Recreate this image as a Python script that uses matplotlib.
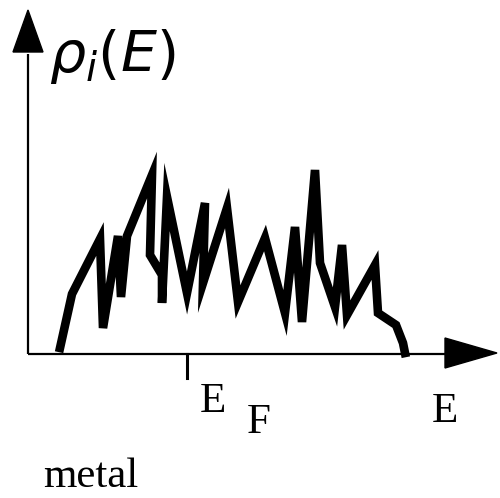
import numpy as np
import matplotlib
matplotlib.use('Agg')
import matplotlib.pyplot as plt
from matplotlib.patches import Polygon

# schematic density of states of a metal (arbitrary units, E relative to E_F)
energy = [-1.27, -1.15, -0.87, -0.84, -0.69, -0.66, -0.60, -0.35, -0.37,
          -0.25, -0.25, -0.20, 0.00, 0.18, 0.16, 0.40, 0.51, 0.78, 0.98,
          1.08, 1.15, 1.28, 1.33, 1.48, 1.55, 1.60, 1.88, 1.91, 2.09,
          2.16, 2.18]
dos = [0.06, 0.60, 1.15, 0.26, 1.18, 0.57, 1.18, 1.79, 0.99, 0.79, 0.51,
       1.57, 0.61, 1.51, 0.71, 1.46, 0.52, 1.16, 0.41, 1.27, 0.32, 1.84,
       0.91, 0.47, 1.09, 0.39, 0.89, 0.41, 0.29, 0.11, 0.01]
e_fermi = 0.0

plt.rcParams['mathtext.fontset'] = 'dejavusans'

fig = plt.figure(figsize=(5, 4.98), dpi=100)
ax = fig.add_axes([0, 0, 1, 1])
ax.set_xlim(-1.87, 3.13)
ax.set_ylim(-1.44, 3.54)
ax.axis('off')

x0, y0 = -1.59, 0.0
# axes lines with arrow heads
ax.plot([x0, x0], [y0, 3.0], color='black', lw=1.6, solid_capstyle='butt')
ax.plot([x0, 2.7], [y0, y0], color='black', lw=1.6, solid_capstyle='butt')
ax.add_patch(Polygon([[x0 - 0.15, 3.02], [x0 + 0.15, 3.02], [x0, 3.44]],
                     closed=True, color='black'))
ax.add_patch(Polygon([[2.58, 0.16], [2.58, -0.14], [3.10, 0.01]],
                     closed=True, color='black'))

# Fermi level tick
ax.plot([e_fermi, e_fermi], [0, -0.24], color='black', lw=2.2)

ax.plot(energy, dos, color='black', lw=6.2, solid_joinstyle='miter')

ax.text(-1.38, 2.82, r'$\rho_i(E)$', fontsize=41, ha='left', va='baseline')
ax.text(0.13, -0.58, 'E', fontsize=31, family='Liberation Serif',
        ha='left', va='baseline')
ax.text(0.60, -0.79, 'F', fontsize=31, family='Liberation Serif',
        ha='left', va='baseline')
ax.text(2.45, -0.68, 'E', fontsize=31, family='Liberation Serif',
        ha='left', va='baseline')
ax.text(-1.44, -1.33, 'metal', fontsize=31, family='Liberation Serif',
        ha='left', va='baseline')

fig.savefig('out.png', dpi=100)
